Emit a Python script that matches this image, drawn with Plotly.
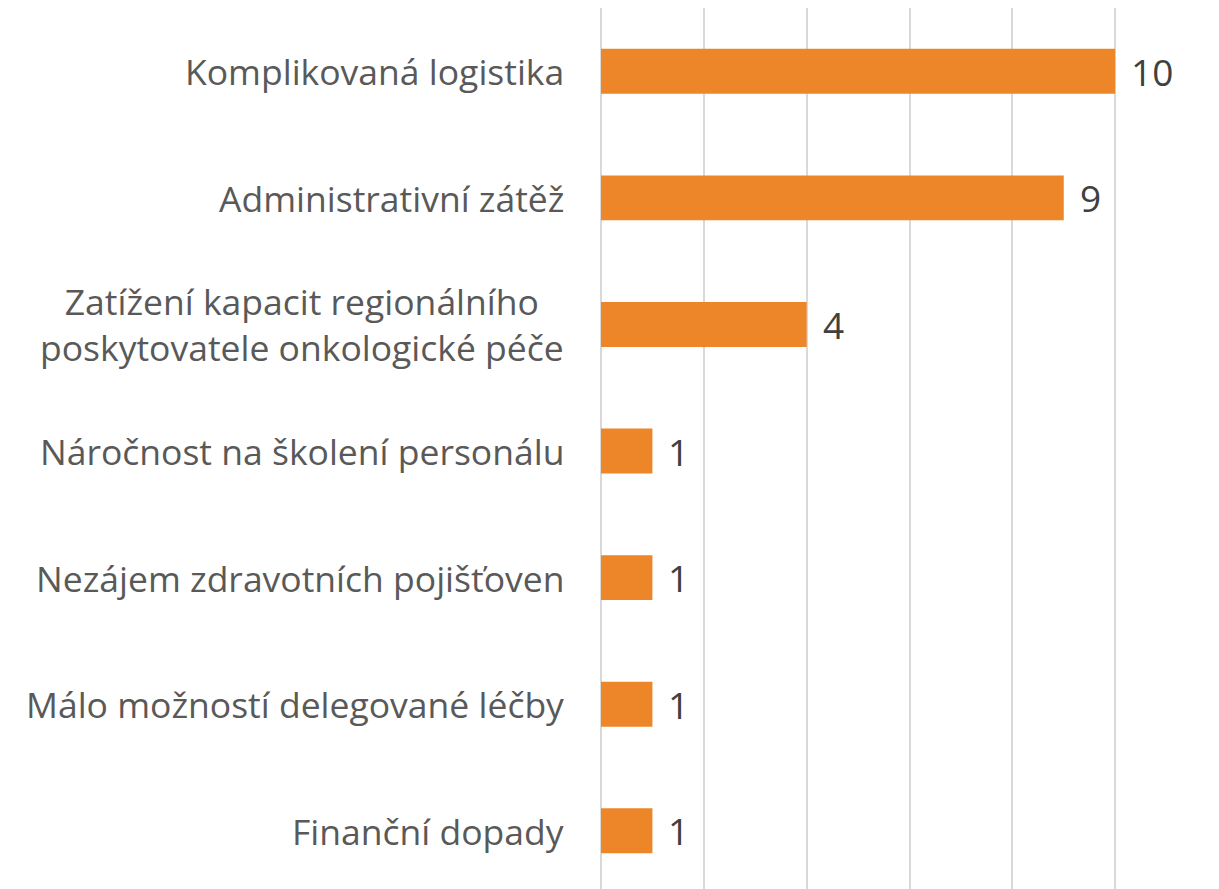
import plotly.graph_objects as go

categories = [
    "Komplikovaná logistika",
    "Administrativní zátěž",
    "Zatížení kapacit regionálního<br>poskytovatele onkologické péče",
    "Náročnost na školení personálu",
    "Nezájem zdravotních pojišťoven",
    "Málo možností delegované léčby",
    "Finanční dopady",
]
values = [10, 9, 4, 1, 1, 1, 1]
x_ticks = [0, 2, 4, 6, 8, 10, 12]

BAR = "#ED8629"
FONT = "Open Sans"

fig = go.Figure()
fig.add_trace(go.Bar(
    x=values,
    y=categories,
    orientation="h",
    marker=dict(color=BAR, line=dict(width=0)),
    hoverinfo="skip",
))

annotations = []
for c, v in zip(categories, values):
    annotations.append(dict(
        x=0, y=c, xref="paper", yref="y", xanchor="right", yanchor="middle",
        xshift=-35, text=c, showarrow=False, align="center",
        font=dict(family=FONT, size=35.5, color="#595959"),
    ))
    annotations.append(dict(
        x=v, y=c, xref="x", yref="y", xanchor="left", yanchor="middle",
        xshift=14, text=str(v), showarrow=False,
        font=dict(family=FONT, size=37, color="#404040", weight=500),
    ))

fig.update_layout(
    width=1211, height=881,
    margin=dict(l=593, r=1, t=0, b=0),
    paper_bgcolor="white", plot_bgcolor="white",
    bargap=0.645,
    showlegend=False,
    annotations=annotations,
    xaxis=dict(
        range=[0, 12], tickvals=x_ticks, showticklabels=False,
        showgrid=True, gridcolor="#D9D9D9", gridwidth=2,
        zeroline=True, zerolinecolor="#D9D9D9", zerolinewidth=2,
        showline=False, fixedrange=True,
    ),
    yaxis=dict(
        range=[6.46, -0.5], showticklabels=False, showgrid=False,
        zeroline=False, showline=False, fixedrange=True,
        categoryorder="array", categoryarray=categories,
    ),
)

fig.write_html("out.html")
